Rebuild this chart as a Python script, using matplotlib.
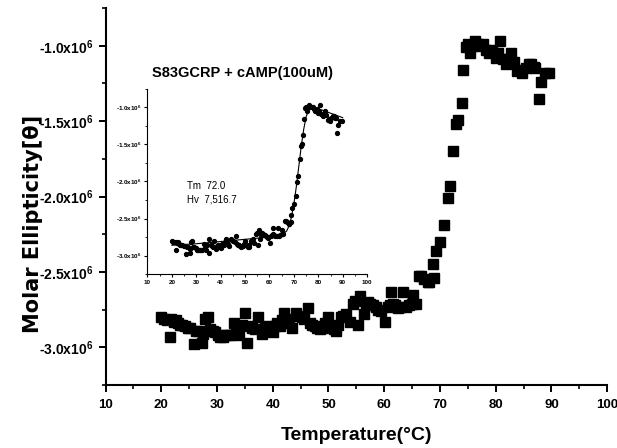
import numpy as np
import matplotlib
matplotlib.use('Agg')
import matplotlib.pyplot as plt
from matplotlib.ticker import MultipleLocator, FuncFormatter

# thermal melt, S83GCRP + cAMP; ellipticity in units of 10^6
temp = [20.0, 20.5, 21.0, 21.5, 21.7, 22.2, 22.6, 23.0, 23.4, 23.8, 24.3, 24.8, 25.2, 25.8,
        26.2, 26.7, 27.3, 27.5, 27.9, 28.4, 28.8, 29.2, 29.7, 30.2, 30.6, 31.0, 31.5, 32.0,
        32.4, 33.0, 33.4, 33.9, 34.5, 35.1, 35.4, 35.9, 36.3, 36.8, 37.4, 38.0, 38.3, 38.6,
        39.0, 39.5, 40.1, 40.4, 40.7, 41.3, 41.7, 42.0, 42.5, 43.0, 43.4, 44.2, 44.7, 45.2,
        45.7, 46.4, 46.7, 47.1, 47.6, 48.0, 48.4, 49.0, 49.4, 49.9, 50.5, 51.0, 51.4, 51.8,
        52.3, 52.7, 53.2, 53.8, 54.4, 54.8, 55.3, 55.6, 56.3, 56.7, 57.1, 57.5, 58.0, 58.5,
        58.9, 59.4, 60.2, 60.6, 61.0, 61.3, 61.5, 62.0, 62.4, 62.9, 63.3, 63.9, 64.4, 65.0,
        65.2, 65.7, 66.3, 66.6, 67.2, 67.8, 68.0, 68.8, 69.0, 69.3, 70.0, 70.8, 71.4, 71.8,
        72.3, 72.9, 73.3, 73.9, 74.2, 74.6, 75.0, 75.4, 75.8, 76.3, 76.8, 77.3, 77.7, 78.3,
        78.8, 79.3, 80.0, 80.4, 80.8, 81.3, 81.8, 82.3, 82.8, 83.3, 83.9, 84.3, 84.8, 85.4,
        85.9, 86.3, 86.8, 87.1, 87.7, 88.2, 88.9, 89.6]
ellip = [-2.80, -2.81, -2.82, -2.93, -2.81, -2.83, -2.82, -2.84, -2.85, -2.85, -2.86, -2.87, -2.87, -2.98,
         -2.89, -2.89, -2.97, -2.91, -2.81, -2.80, -2.88, -2.89, -2.90, -2.92, -2.93, -2.93, -2.92, -2.92,
         -2.92, -2.84, -2.90, -2.92, -2.85, -2.77, -2.97, -2.86, -2.87, -2.88, -2.80, -2.91, -2.89, -2.87,
         -2.86, -2.88, -2.90, -2.86, -2.84, -2.86, -2.82, -2.77, -2.81, -2.84, -2.87, -2.77, -2.79, -2.80,
         -2.81, -2.74, -2.84, -2.85, -2.86, -2.87, -2.88, -2.87, -2.84, -2.80, -2.86, -2.88, -2.89, -2.85,
         -2.80, -2.79, -2.78, -2.83, -2.71, -2.69, -2.85, -2.66, -2.78, -2.72, -2.70, -2.71, -2.72, -2.73,
         -2.75, -2.76, -2.83, -2.73, -2.72, -2.63, -2.71, -2.72, -2.74, -2.73, -2.63, -2.73, -2.72, -2.71,
         -2.65, -2.71, -2.53, -2.53, -2.55, -2.57, -2.57, -2.45, -2.54, -2.36, -2.30, -2.19, -2.01, -1.93,
         -1.70, -1.52, -1.49, -1.38, -1.16, -1.01, -0.99, -1.05, -1.00, -0.97, -0.99, -1.00, -0.99, -1.03,
         -1.05, -1.03, -1.08, -1.05, -0.97, -1.09, -1.12, -1.09, -1.05, -1.11, -1.17, -1.16, -1.18, -1.15,
         -1.12, -1.12, -1.14, -1.15, -1.35, -1.24, -1.18, -1.18]

# fitted curve shown in the inset
fit_temp = [20, 30, 40, 50, 60, 65, 67, 68, 69, 70, 71, 72, 73, 74, 75, 76, 77, 80, 85, 90]
fit_ellip = [-2.86, -2.84, -2.81, -2.78, -2.75, -2.72, -2.67, -2.60, -2.48, -2.30, -2.07,
             -1.80, -1.53, -1.30, -1.13, -1.04, -1.00, -1.02, -1.08, -1.14]

plt.rcParams['font.family'] = ['Liberation Sans', 'DejaVu Sans']
plt.rcParams['font.weight'] = 'bold'
plt.rcParams['mathtext.fontset'] = 'custom'
plt.rcParams['mathtext.rm'] = 'Liberation Sans:bold'
plt.rcParams['mathtext.it'] = 'Liberation Sans:bold'
plt.rcParams['mathtext.bf'] = 'Liberation Sans:bold'

fmt = FuncFormatter(lambda v, pos: '%.1fx10$^6$' % v)

fig = plt.figure(figsize=(6.17, 4.48), dpi=100)
ax = fig.add_axes([0.171, 0.1406, 0.813, 0.8414])
ax.plot(temp, ellip, 's', color='black', markersize=6.5)
ax.set_xlim(10, 100)
ax.set_ylim(-3.25, -0.75)
ax.xaxis.set_major_locator(MultipleLocator(10))
ax.xaxis.set_minor_locator(MultipleLocator(5))
ax.yaxis.set_major_locator(MultipleLocator(0.5))
ax.yaxis.set_minor_locator(MultipleLocator(0.25))
ax.yaxis.set_major_formatter(fmt)
ax.spines['top'].set_visible(False)
ax.spines['right'].set_visible(False)
for s in ['left', 'bottom']:
    ax.spines[s].set_linewidth(1.5)
ax.tick_params(which='major', direction='out', length=5, width=1.4, labelsize=10)
ax.tick_params(which='minor', direction='out', length=3, width=1.2)
ax.tick_params(axis='x', pad=5, labelsize=9.5)
ax.set_xlabel('Temperature(°C)', fontsize=14, fontweight='bold')
ax.xaxis.set_label_coords(0.5, -0.112)
ax.set_ylabel('Molar Ellipticity[θ]', fontsize=15, fontweight='bold',
              family='DejaVu Sans', va='center')
ax.yaxis.set_label_coords(-0.1445, 0.427)

# inset
axi = fig.add_axes([0.239, 0.388, 0.356, 0.414])
axi.set_facecolor('none')
axi.plot(fit_temp, fit_ellip, '-', color='black', linewidth=0.8)
axi.plot(temp, ellip, 'o', color='black', markersize=2.8)
axi.set_xlim(10, 100)
axi.set_ylim(-3.25, -0.75)
axi.xaxis.set_major_locator(MultipleLocator(10))
axi.xaxis.set_minor_locator(MultipleLocator(5))
axi.yaxis.set_major_locator(MultipleLocator(0.5))
axi.yaxis.set_minor_locator(MultipleLocator(0.25))
axi.yaxis.set_major_formatter(fmt)
axi.spines['top'].set_visible(False)
axi.spines['right'].set_visible(False)
for s in ['left', 'bottom']:
    axi.spines[s].set_linewidth(0.8)
axi.tick_params(which='major', direction='out', length=2.5, width=0.8, labelsize=4.5, pad=1.5)
axi.tick_params(which='minor', direction='out', length=1.5, width=0.6)
axi.text(26, -2.06, 'Tm  72.0', fontsize=7, fontweight='normal', va='center')
axi.text(26, -2.24, 'Hv  7,516.7', fontsize=7, fontweight='normal', va='center')
fig.text(0.393, 0.836, 'S83GCRP + cAMP(100uM)', fontsize=10.5, fontweight='bold',
         ha='center', va='center')

fig.savefig('out.png', dpi=100)
